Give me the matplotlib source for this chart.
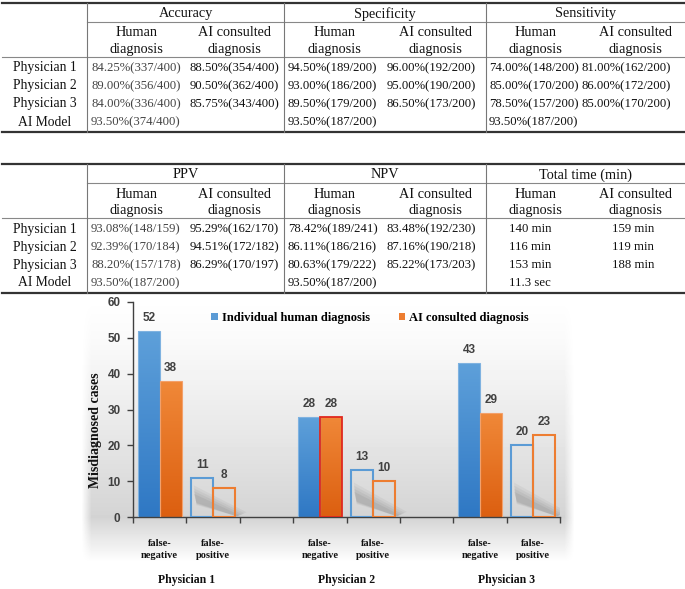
import numpy as np
import matplotlib
matplotlib.use('Agg')
import matplotlib.pyplot as plt
import matplotlib.transforms as mtransforms
from matplotlib.lines import Line2D
from matplotlib.patches import Patch, Polygon
from matplotlib.colors import LinearSegmentedColormap

# 1. table data
row_names = ['Physician 1', 'Physician 2', 'Physician 3', 'AI Model']
table1_groups = ['Accuracy', 'Specificity', 'Sensitivity']
table2_groups = ['PPV', 'NPV', 'Total time (min)']
sub_headers = [('Human', 'diagnosis'), ('AI consulted', 'diagnosis')]

accuracy_human = ['84.25%(337/400)', '89.00%(356/400)', '84.00%(336/400)', '93.50%(374/400)']
accuracy_ai = ['88.50%(354/400)', '90.50%(362/400)', '85.75%(343/400)', '']
specificity_human = ['94.50%(189/200)', '93.00%(186/200)', '89.50%(179/200)', '93.50%(187/200)']
specificity_ai = ['96.00%(192/200)', '95.00%(190/200)', '86.50%(173/200)', '']
sensitivity_human = ['74.00%(148/200)', '85.00%(170/200)', '78.50%(157/200)', '93.50%(187/200)']
sensitivity_ai = ['81.00%(162/200)', '86.00%(172/200)', '85.00%(170/200)', '']
ppv_human = ['93.08%(148/159)', '92.39%(170/184)', '88.20%(157/178)', '93.50%(187/200)']
ppv_ai = ['95.29%(162/170)', '94.51%(172/182)', '86.29%(170/197)', '']
npv_human = ['78.42%(189/241)', '86.11%(186/216)', '80.63%(179/222)', '93.50%(187/200)']
npv_ai = ['83.48%(192/230)', '87.16%(190/218)', '85.22%(173/203)', '']
time_human = ['140 min', '116 min', '153 min', '11.3 sec']
time_ai = ['159 min', '119 min', '188 min', '']

# 2. bar chart data
physicians = ['Physician 1', 'Physician 2', 'Physician 3']
error_types = ['false-\nnegative', 'false-\npositive']
human_fn = [52, 28, 43]
human_fp = [11, 13, 20]
ai_fn = [38, 28, 29]
ai_fp = [8, 10, 23]
legend_labels = ['Individual human diagnosis', 'AI consulted diagnosis']

SERIF = 'Liberation Serif'
SANS = 'Liberation Sans'
W, H = 685, 589

fig = plt.figure(figsize=(W / 100, H / 100), dpi=100)
fig.patch.set_facecolor('white')


def fx(x):
    return x / W


def fy(y):
    return 1 - y / H


def line(x0, x1, y0, y1, lw, color):
    fig.add_artist(Line2D([fx(x0), fx(x1)], [fy(y0), fy(y1)],
                          transform=fig.transFigure, lw=lw, color=color))


def draw_table(top, groups, columns, col_x, centered):
    spans = [(87, 284), (284, 486), (486, 685)]
    # rules
    line(2, 685, top, top, 1.6, '#333333')
    line(87, 685, top + 19, top + 19, 0.8, '#888888')
    line(2, 685, top + 54, top + 54, 0.8, '#888888')
    line(2, 685, top + 129, top + 129, 1.6, '#333333')
    for x in [87, 284, 486]:
        line(x, x, top, top + 129, 0.8, '#777777')
    # headers
    for (a, b), g in zip(spans, groups):
        fig.text(fx((a + b) / 2), fy(top + 11), g, family=SERIF, fontsize=10.3,
                 ha='center', va='center', color='#111111')
        for k, (l1, l2) in enumerate(sub_headers):
            cx = a + (b - a) * (0.25 + 0.5 * k)
            fig.text(fx(cx), fy(top + 30), l1, family=SERIF, fontsize=10.3,
                     ha='center', va='center', color='#111111')
            fig.text(fx(cx), fy(top + 47), l2, family=SERIF, fontsize=10.3,
                     ha='center', va='center', color='#111111')
    # body
    row_y = [top + 65, top + 83, top + 101, top + 119]
    for i, name in enumerate(row_names):
        fig.text(fx(45), fy(row_y[i]), name, family=SERIF, fontsize=9.8,
                 ha='center', va='center', color='#111111')
        for j, col in enumerate(columns):
            fig.text(fx(col_x[j]), fy(row_y[i]), col[i], family=SERIF, fontsize=9.2,
                     ha='center' if centered[j] else 'left', va='center',
                     color='#444444' if j == 0 else '#111111')


draw_table(3, table1_groups,
           [accuracy_human, accuracy_ai, specificity_human, specificity_ai,
            sensitivity_human, sensitivity_ai],
           [91, 190, 288, 387, 489, 581], [False] * 6)
draw_table(164, table2_groups,
           [ppv_human, ppv_ai, npv_human, npv_ai, time_human, time_ai],
           [91, 190, 288, 387, 530, 633], [False] * 4 + [True] * 2)

# 3. chart background (soft gray gradient)
bg_ax = fig.add_axes([fx(81), fy(562), fx(574) - fx(81), fy(297) - fy(562)])
ys = np.arange(297, 562)
shade = np.interp(ys, [297, 340, 430, 517, 535, 562], [1.0, 0.98, 0.91, 0.83, 0.9, 1.0])
xs = np.arange(81, 574)
edge = np.clip(np.minimum(xs - 81, 574 - xs) / 10.0, 0, 1)
bg = 1 - (1 - shade[:, None]) * edge[None, :]
bg_ax.imshow(bg, cmap='gray', vmin=0, vmax=1, aspect='auto', interpolation='bilinear')
bg_ax.axis('off')

# 4. bars
ax = fig.add_axes([fx(133), fy(517), fx(560) - fx(133), fy(302) - fy(517)])
ax.set_facecolor('none')

blue, orange = '#5B9BD5', '#ED7D31'
blue_cmap = LinearSegmentedColormap.from_list('b', ['#2F78C4', '#5EA0DA'])
orange_cmap = LinearSegmentedColormap.from_list('o', ['#DC5F10', '#F08838'])
grad = np.linspace(0, 1, 100)[:, None]

width = 0.41
fn_pos = np.arange(len(physicians)) * 3 + 0.5
fp_pos = fn_pos + 1

solid = [ax.bar(fn_pos - width / 2, human_fn, width, color='none', zorder=3),
         ax.bar(fn_pos + width / 2, ai_fn, width, color='none', zorder=3)]
for bars, cmap, ec in zip(solid, [blue_cmap, orange_cmap], ['#7FB2E0', '#F3A06A']):
    for r in bars:
        x0, h = r.get_x(), r.get_height()
        im = ax.imshow(grad, cmap=cmap, origin='lower', aspect='auto',
                       extent=[x0, x0 + r.get_width(), 0, h], zorder=2)
        im.set_clip_path(r)
        r.set_edgecolor(ec)
        r.set_linewidth(0.8)
# Physician 2 AI bar has a red outline
solid[1][1].set_edgecolor('#E0281E')
solid[1][1].set_linewidth(1.3)

hollow = [ax.bar(fp_pos - width / 2, human_fp, width, facecolor='none',
                 edgecolor=blue, linewidth=1.5, zorder=3),
          ax.bar(fp_pos + width / 2, ai_fp, width, facecolor='none',
                 edgecolor=orange, linewidth=1.5, zorder=3)]

# soft cast shadows behind the hollow bars
for rb, ro in zip(hollow[0], hollow[1]):
    left = rb.get_x()
    right = ro.get_x() + ro.get_width()
    hb = min(rb.get_height(), 12)
    for k, a in enumerate([0.05, 0.05, 0.06, 0.07]):
        s = 1 - k * 0.2
        ax.add_patch(Polygon([(left + 0.05, hb * (0.45 + 0.35 * s)),
                              (right + 0.22 * s, hb * 0.12 * s),
                              (right + 0.05 * s, 0.2),
                              (left + 0.1, hb * (0.4 - 0.1 * s))],
                             closed=True, facecolor='#303030', edgecolor='none',
                             alpha=a, zorder=1.5))

for bars in solid + hollow:
    for r in bars:
        ax.annotate(f'{int(r.get_height())}', (r.get_x() + r.get_width() / 2, r.get_height()),
                    xytext=(0, 5), textcoords='offset points', ha='center', va='bottom',
                    family=SANS, fontweight='bold', fontsize=8.5, color='#404040')

ax.set_xlim(0, 8)
ax.set_ylim(0, 60)
ax.set_yticks(range(0, 61, 10))
ax.set_xticks(range(0, 9))
ax.set_xticklabels([])
ax.set_xticks(np.concatenate([fn_pos, fp_pos]), minor=True)
ax.set_xticklabels(error_types[:1] * 3 + error_types[1:] * 3, minor=True,
                   family=SERIF, fontweight='bold', fontsize=7.5, linespacing=1.4,
                   color='#111111')
ax.tick_params(axis='x', which='minor', length=0, pad=16)
ax.tick_params(axis='both', which='major', length=4, width=1, color='#404040',
               direction='out')
ax.tick_params(axis='y', pad=5)
for lab in ax.get_yticklabels():
    lab.set_family(SANS)
    lab.set_fontweight('bold')
    lab.set_fontsize(8.5)
    lab.set_color('#404040')
for s in ['top', 'right']:
    ax.spines[s].set_visible(False)
for s in ['left', 'bottom']:
    ax.spines[s].set_color('#404040')
    ax.spines[s].set_linewidth(1.0)

trans = mtransforms.blended_transform_factory(ax.transData, ax.transAxes)
for i, name in enumerate(physicians):
    ax.text(fn_pos[i] + 0.5, -0.293, name, transform=trans, ha='center', va='center',
            family=SERIF, fontweight='bold', fontsize=8.5, color='#111111')

fig.text(fx(95), fy(430), 'Misdiagnosed cases', rotation=90, ha='center', va='center',
         family=SERIF, fontweight='bold', fontsize=10, color='#111111')

handles = [Patch(facecolor=blue), Patch(facecolor=orange)]
ax.legend(handles, legend_labels, loc='center', bbox_to_anchor=(0.555, 0.926), ncol=2,
          frameon=False, handlelength=0.55, handleheight=0.55, handletextpad=0.3,
          columnspacing=2.3, prop={'family': SERIF, 'weight': 'bold', 'size': 9})

plt.savefig('out.png', dpi=100)
